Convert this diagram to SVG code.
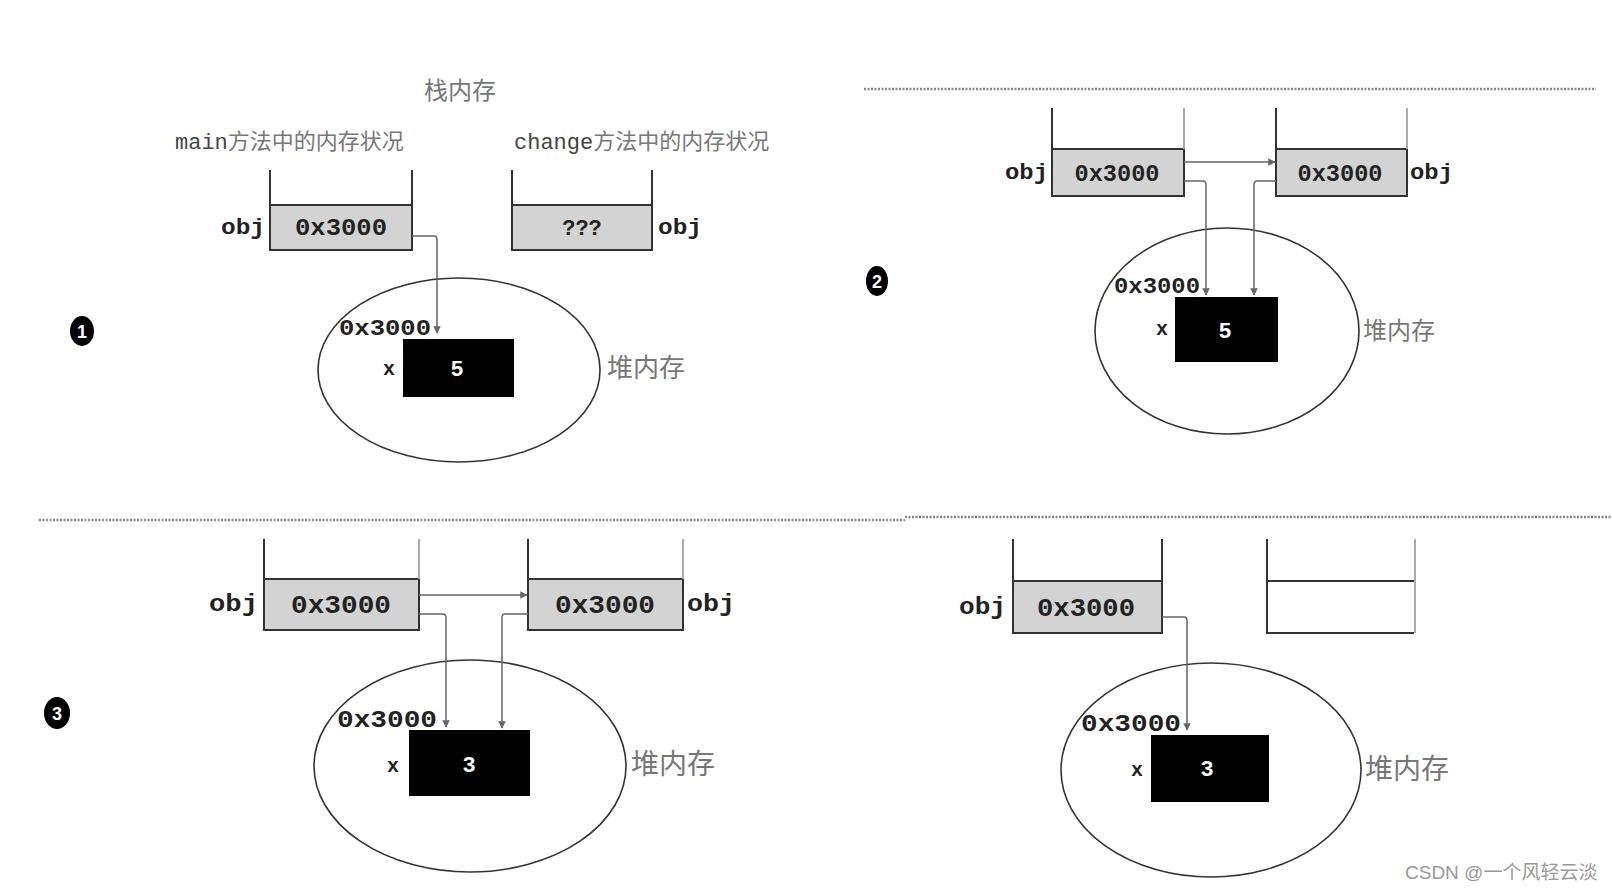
<svg xmlns="http://www.w3.org/2000/svg" width="1612" height="890" viewBox="0 0 1612 890">
<defs>
<style>
.mono{font-family:"Liberation Mono","DejaVu Sans Mono",monospace;font-weight:bold;fill:#222}
.lbl{font-family:"Liberation Mono","DejaVu Sans Mono",monospace;font-weight:normal;fill:#444}
.cell{fill:#d3d3d3;stroke:#333;stroke-width:2}
.wall{stroke:#333;stroke-width:2;fill:none}
.wall2{stroke:#aaa;stroke-width:2;fill:none}
.heap{fill:none;stroke:#333;stroke-width:1.6}
.obj{fill:#000}
.cjk{font-family:"Liberation Sans","Noto Sans CJK SC",sans-serif;fill:#777}
.conn{fill:none;stroke:#666;stroke-width:1.5}
.dots{stroke:#888;stroke-width:2.5;stroke-dasharray:2 1.5}
.num{fill:#fff;font-family:"Liberation Sans",sans-serif;font-weight:bold;font-size:18px}
.val{fill:#fff;font-family:"Liberation Mono",monospace;font-weight:bold;font-size:22px}
</style>
<marker id="ah" viewBox="0 0 10 10" refX="9" refY="5" markerWidth="5" markerHeight="5" orient="auto"><path d="M0,0 L10,5 L0,10 z" fill="#666"/></marker>
</defs>
<rect width="1612" height="890" fill="#fff"/>

<!-- separators -->
<line class="dots" x1="864" y1="89" x2="1596" y2="89"/>
<line class="dots" x1="39" y1="520" x2="905" y2="520"/>
<line class="dots" x1="905" y1="517" x2="1612" y2="517"/>

<!-- Panel 1 -->
<g id="panel1">
<text class="cjk" x="460" y="99" font-size="24" text-anchor="middle">栈内存</text>
<text x="175" y="149"><tspan class="lbl" font-size="22">main</tspan><tspan class="cjk" fill="#444" font-size="22">方法中的内存状况</tspan></text>
<text x="514" y="149"><tspan class="lbl" font-size="22">change</tspan><tspan class="cjk" fill="#444" font-size="22">方法中的内存状况</tspan></text>
<g id="p1-main">
<rect class="cell" x="270" y="205" width="142" height="45"/>
<path class="wall" d="M270,170 V250 M412,170 V250"/>
<text class="mono" x="221" y="234" font-size="22" textLength="44" lengthAdjust="spacingAndGlyphs">obj</text>
<text class="mono" x="341" y="235" font-size="23" text-anchor="middle" textLength="92" lengthAdjust="spacingAndGlyphs">0x3000</text>
</g>
<g id="p1-change">
<rect class="cell" x="512" y="205" width="140" height="45"/>
<path class="wall" d="M512,170 V250 M652,170 V250"/>
<text class="mono" x="582" y="235" font-size="22" text-anchor="middle">???</text>
<text class="mono" x="658" y="234" font-size="22" textLength="44" lengthAdjust="spacingAndGlyphs">obj</text>
</g>
<g id="p1-heap">
<ellipse class="heap" cx="459" cy="370" rx="141" ry="92"/>
<text class="mono" x="339" y="335" font-size="22" textLength="92" lengthAdjust="spacingAndGlyphs">0x3000</text>
<rect class="obj" x="403" y="339" width="111" height="58"/>
<text class="val" x="457" y="376" text-anchor="middle">5</text>
<text class="mono" x="383" y="375" font-size="20">x</text>
<text class="cjk" x="607" y="377" font-size="26">堆内存</text>
</g>
<g id="p1-badge">
<ellipse cx="82" cy="331" rx="12" ry="15" fill="#000"/>
<text class="num" x="82" y="338" text-anchor="middle">1</text>
</g>
</g>

<!-- Panel 2 -->
<g id="panel2">
<g id="p2-left">
<rect class="cell" x="1052" y="149" width="132" height="47"/>
<path class="wall" d="M1052,108 V196"/><path class="wall2" d="M1184,108 V149"/>
<text class="mono" x="1005" y="179" font-size="22" textLength="43" lengthAdjust="spacingAndGlyphs">obj</text>
<text class="mono" x="1117" y="181" font-size="23" text-anchor="middle" textLength="85" lengthAdjust="spacingAndGlyphs">0x3000</text>
</g>
<g id="p2-right">
<rect class="cell" x="1276" y="149" width="131" height="47"/>
<path class="wall" d="M1276,108 V196"/><path class="wall2" d="M1407,108 V149"/>
<text class="mono" x="1340" y="181" font-size="23" text-anchor="middle" textLength="85" lengthAdjust="spacingAndGlyphs">0x3000</text>
<text class="mono" x="1410" y="179" font-size="22" textLength="43" lengthAdjust="spacingAndGlyphs">obj</text>
</g>
<g id="p2-heap">
<ellipse class="heap" cx="1227" cy="331" rx="132" ry="103"/>
<text class="mono" x="1114" y="293" font-size="22" textLength="86" lengthAdjust="spacingAndGlyphs">0x3000</text>
<rect class="obj" x="1175" y="297" width="103" height="65"/>
<text class="val" x="1225" y="338" text-anchor="middle">5</text>
<text class="mono" x="1156" y="335" font-size="20">x</text>
<text class="cjk" x="1363" y="339" font-size="24">堆内存</text>
</g>
<g id="p2-badge">
<ellipse cx="877" cy="281" rx="11" ry="15" fill="#000"/>
<text class="num" x="877" y="288" text-anchor="middle">2</text>
</g>
</g>

<!-- Panel 3 -->
<g id="panel3">
<g id="p3-left">
<rect class="cell" x="264" y="579" width="155" height="51"/>
<path class="wall" d="M264,539 V630"/><path class="wall2" d="M419,539 V579"/>
<text class="mono" x="209" y="611" font-size="23" textLength="49" lengthAdjust="spacingAndGlyphs">obj</text>
<text class="mono" x="341" y="613" font-size="25" text-anchor="middle" textLength="100" lengthAdjust="spacingAndGlyphs">0x3000</text>
</g>
<g id="p3-right">
<rect class="cell" x="528" y="579" width="155" height="51"/>
<path class="wall" d="M528,539 V630"/><path class="wall2" d="M683,539 V579"/>
<text class="mono" x="605" y="613" font-size="25" text-anchor="middle" textLength="100" lengthAdjust="spacingAndGlyphs">0x3000</text>
<text class="mono" x="687" y="611" font-size="23" textLength="48" lengthAdjust="spacingAndGlyphs">obj</text>
</g>
<g id="p3-heap">
<ellipse class="heap" cx="470" cy="766" rx="156" ry="106"/>
<text class="mono" x="337" y="727" font-size="24" textLength="100" lengthAdjust="spacingAndGlyphs">0x3000</text>
<rect class="obj" x="409" y="730" width="121" height="66"/>
<text class="val" x="469" y="772" text-anchor="middle">3</text>
<text class="mono" x="387" y="772" font-size="20">x</text>
<text class="cjk" x="631" y="774" font-size="28">堆内存</text>
</g>
<g id="p3-badge">
<ellipse cx="57" cy="713" rx="13" ry="16" fill="#000"/>
<text class="num" x="57" y="720" text-anchor="middle">3</text>
</g>
</g>

<!-- Panel 4 -->
<g id="panel4">
<g id="p4-left">
<rect class="cell" x="1013" y="581" width="149" height="52"/>
<path class="wall" d="M1013,539 V633 M1162,539 V633"/>
<text class="mono" x="959" y="614" font-size="23" textLength="47" lengthAdjust="spacingAndGlyphs">obj</text>
<text class="mono" x="1086" y="616" font-size="25" text-anchor="middle" textLength="98" lengthAdjust="spacingAndGlyphs">0x3000</text>
</g>
<g id="p4-right">
<path class="wall" d="M1267,539 V633 H1414 M1267,581 H1414"/>
<path class="wall2" d="M1415,539 V633"/>
</g>
<g id="p4-heap">
<ellipse class="heap" cx="1211" cy="770" rx="150" ry="107"/>
<text class="mono" x="1081" y="731" font-size="24" textLength="100" lengthAdjust="spacingAndGlyphs">0x3000</text>
<rect class="obj" x="1151" y="735" width="118" height="67"/>
<text class="val" x="1207" y="776" text-anchor="middle">3</text>
<text class="mono" x="1131" y="776" font-size="20">x</text>
<text class="cjk" x="1365" y="779" font-size="28">堆内存</text>
</g>
</g>

<!-- connectors -->
<g id="connectors">
<path class="conn" d="M412,236 H434 Q437,236 437,240 V333" marker-end="url(#ah)"/>
<path class="conn" d="M1184,162 H1275" marker-end="url(#ah)"/>
<path class="conn" d="M1184,181 H1203 Q1206,181 1206,185 V295" marker-end="url(#ah)"/>
<path class="conn" d="M1276,181 H1257 Q1254,181 1254,185 V295" marker-end="url(#ah)"/>
<path class="conn" d="M419,595 H527" marker-end="url(#ah)"/>
<path class="conn" d="M419,614 H443 Q446,614 446,618 V727" marker-end="url(#ah)"/>
<path class="conn" d="M528,614 H505 Q502,614 502,618 V728" marker-end="url(#ah)"/>
<path class="conn" d="M1162,617 H1184 Q1187,617 1187,621 V730" stroke="#bbb" marker-end="url(#ah)"/>
</g>

<text x="1405" y="879" font-family="Liberation Sans,Noto Sans CJK SC,sans-serif" font-size="19" fill="#999">CSDN @一个风轻云淡</text>
</svg>
